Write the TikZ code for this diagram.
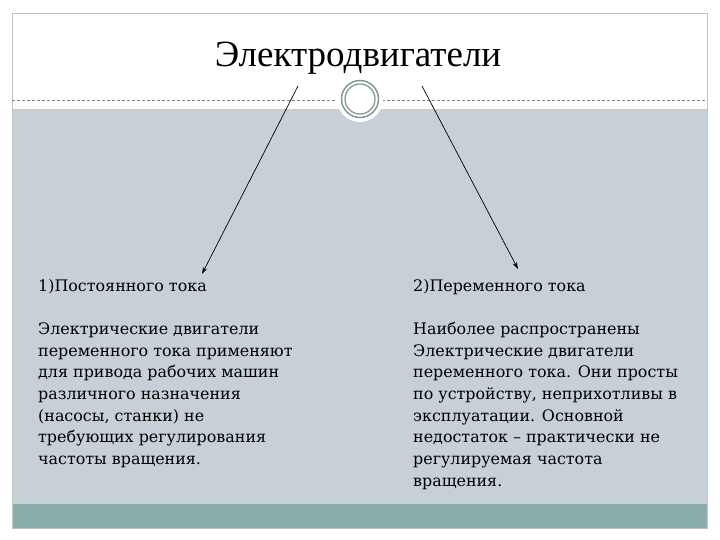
\documentclass[tikz,border=0pt]{standalone}
\usepackage{fontspec}
\setmainfont{DejaVu Serif}
\newfontfamily\titlefont{Liberation Serif}
\usetikzlibrary{arrows.meta}
\definecolor{panel}{RGB}{199,208,214}
\definecolor{band}{RGB}{138,172,170}
\definecolor{ring}{RGB}{122,150,148}
\definecolor{frame}{RGB}{190,196,198}
\tikzset{
  bodytext/.style={anchor=base west, align=left, inner sep=0pt,
    font=\fontsize{15.9}{21.7}\selectfont},
  pointer/.style={draw=black, line width=0.7pt, -{Stealth[length=7pt,width=4.5pt]}}
}
\begin{document}
\begin{tikzpicture}[x=1pt,y=-1pt]
\useasboundingbox (0,0) rectangle (720,540);
\fill[white] (0,0) rectangle (720,540);
% panels
\fill[panel] (12,109) rectangle (707,504);
\fill[band] (12,504) rectangle (707,528);
\draw[frame, line width=0.8pt] (12,13) rectangle (707,528);
\draw[gray, dashed, line width=0.5pt, dash pattern=on 3pt off 2pt] (12,100) -- (707,100);
% medallion
\fill[white] (360,99) circle (23);
\draw[ring, line width=1.4pt] (360,99) circle (18.5);
\draw[ring, line width=1.2pt] (360,99) circle (15);
% title
\node[anchor=base, inner sep=0pt, font=\titlefont\fontsize{37}{42}\selectfont] (T) at (358,67) {Электродвигатели};
% bodies (anchored at the baseline of the last line)
\node[bodytext] (L) at (38,464.6) {1)Постоянного тока\\[21.7pt]
Электрические двигатели\\
переменного тока применяют\\
для привода рабочих машин\\
различного назначения\\
(насосы, станки) не\\
требующих регулирования\\
частоты вращения.};
\node[bodytext] (R) at (413,486.3) {2)Переменного тока\\[21.7pt]
Наиболее распространены\\
Электрические двигатели\\
переменного тока. Они просты\\
по устройству, неприхотливы в\\
эксплуатации. Основной\\
недостаток – практически не\\
регулируемая частота\\
вращения.};
% connectors
\coordinate (la) at (298,86);
\coordinate (lb) at (202,274);
\coordinate (ra) at (422,86);
\coordinate (rb) at (518,269);
\draw[pointer] (la) -- (lb);
\draw[pointer] (ra) -- (rb);
\end{tikzpicture}
\end{document}
